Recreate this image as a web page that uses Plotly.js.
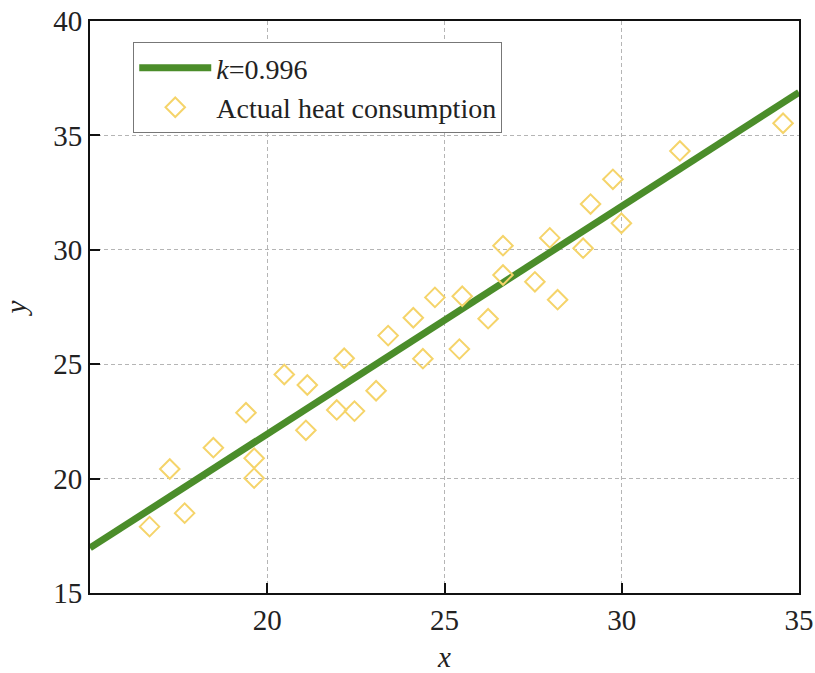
<!DOCTYPE html>
<html>
<head>
<meta charset="utf-8">
<script src="https://cdn.plot.ly/plotly-3.0.1.min.js"></script>
<style>body{margin:0;padding:0;background:#fff;}#chart{width:815px;height:673px;}</style>
</head>
<body>
<div id="chart"></div>
<script>
// Actual heat consumption samples
const actualX = [16.68, 17.25, 17.67, 18.48, 19.40, 19.63, 19.63, 20.48, 21.13, 21.09, 21.96, 22.17, 22.46, 23.07, 23.41, 24.12, 24.39, 24.73, 25.42, 25.50, 26.23, 26.65, 26.65, 27.55, 27.97, 28.19, 28.91, 29.12, 29.75, 29.99, 31.64, 34.55];
const actualY = [17.90, 20.42, 18.49, 21.35, 22.88, 20.89, 20.02, 24.55, 24.09, 22.11, 23.00, 25.26, 22.95, 23.84, 26.25, 27.03, 25.24, 27.92, 25.66, 27.97, 26.99, 30.18, 28.90, 28.60, 30.52, 27.82, 30.07, 32.00, 33.08, 31.16, 34.32, 35.53];
// Fitted line endpoints
const fitX = [15, 35];
const fitY = [16.97, 36.88];
const fitLabel = "<i>k</i>=0.996";
const scatterLabel = "Actual heat consumption";
const xTicks = [20, 25, 30, 35];
const yTicks = [15, 20, 25, 30, 35, 40];

const serif = "Liberation Serif";

const traces = [
  {
    x: fitX, y: fitY, type: 'scatter', mode: 'lines', name: fitLabel,
    line: {color: '#4b8d2a', width: 7}
  },
  {
    x: actualX, y: actualY, type: 'scatter', mode: 'markers', name: scatterLabel,
    marker: {symbol: 'diamond-open', size: 15, color: '#f5d46a', line: {width: 2, color: '#f5d46a'}}
  }
];

const axisCommon = {
  showline: true, linecolor: '#111', linewidth: 2, mirror: true,
  ticks: 'inside', ticklen: 10, tickwidth: 2, tickcolor: '#111',
  showgrid: true, gridcolor: '#b5b5b5', gridwidth: 1, griddash: '4px,3px',
  zeroline: false,
  tickfont: {family: serif, size: 29, color: '#222'}
};

const layout = {
  width: 815, height: 673,
  margin: {l: 90, r: 16, t: 21, b: 80},
  paper_bgcolor: '#fff', plot_bgcolor: '#fff',
  font: {family: serif},
  showlegend: true,
  xaxis: Object.assign({}, axisCommon, {
    range: [15, 35], tickvals: xTicks, ticktext: xTicks.map(String),
    title: {text: '<i>x</i>', font: {family: serif, size: 29, color: '#222'}, standoff: 12}
  }),
  yaxis: Object.assign({}, axisCommon, {
    range: [15, 40], tickvals: yTicks, ticktext: yTicks.map(String),
    title: {text: '<i>y</i>', font: {family: serif, size: 29, color: '#222'}, standoff: 20}
  }),
  legend: {
    x: 0.061, y: 0.963, xanchor: 'left', yanchor: 'top',
    bgcolor: '#fff', bordercolor: '#777', borderwidth: 1,
    font: {family: serif, size: 28, color: '#222'},
    tracegroupgap: 0, itemwidth: 72
  }
};

Plotly.newPlot('chart', traces, layout, {displayModeBar: false, staticPlot: true});
</script>
</body>
</html>
